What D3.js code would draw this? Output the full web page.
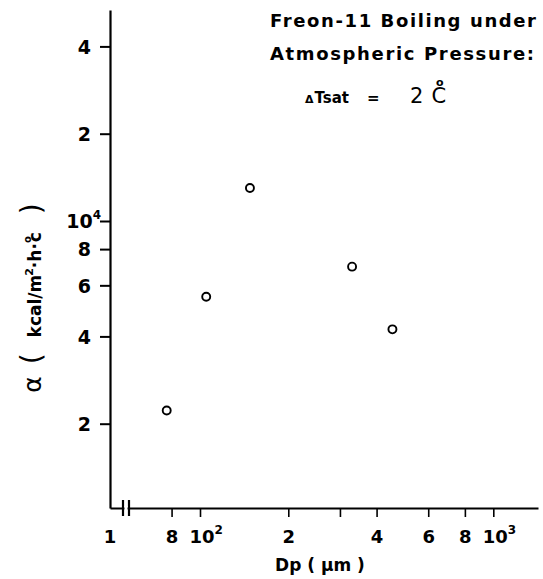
<!DOCTYPE html>
<html><head><meta charset="utf-8">
<script src="https://cdn.jsdelivr.net/npm/d3@7"></script>
<style>
body{margin:0;background:#fff;}
text{font-family:"DejaVu Sans",sans-serif;font-weight:bold;fill:#000;}
</style></head>
<body><svg id="c" width="543" height="579"></svg>
<script>
// Data (Dp in µm, alpha in kcal/m²·h·°C)
const dp = [77, 105, 148, 330, 453];
const alpha = [2220, 5480, 13000, 6960, 4230];
const xTickValues = [80, 100, 200, 300, 400, 600, 800, 1000];
const xTickLabels = ["8", "10|2", "2", "", "4", "6", "8", "10|3"];
const yTickValues = [2000, 4000, 6000, 8000, 10000, 20000, 40000];
const yTickLabels = ["2", "4", "6", "8", "10|4", "2", "4"];

const svg = d3.select("#c");
const L = 110, R = 538, T = 10, B = 508;

const x0 = d3.scaleLog().domain([100, 1000]).range([200, 493.3]);
const x = d3.scaleLog().domain([x0.invert(L), x0.invert(R)]).range([L, R]);
const y0 = d3.scaleLog().domain([10000, 100000]).range([221, -69]);
const y = d3.scaleLog().domain([y0.invert(B), y0.invert(T)]).range([B, T]);

function fmtLabel(sel, labels, vals, supDx, supDy, supSize) {
  sel.each(function(d){
    const i = vals.indexOf(d);
    const t = d3.select(this);
    t.text(null);
    const parts = labels[i].split("|");
    t.append("tspan").text(parts[0]);
    if (parts[1]) t.append("tspan").attr("dy", supDy).attr("dx", supDx).style("font-size", supSize).text(parts[1]);
  });
}

// Y axis
const gy = svg.append("g").attr("transform", `translate(${L},0)`)
  .call(d3.axisLeft(y).tickValues(yTickValues).tickSize(10).tickPadding(9).tickSizeOuter(0));
gy.select(".domain").attr("stroke-width", 2.2);
gy.selectAll(".tick line").attr("stroke-width", 2);
gy.selectAll(".tick text").style("font-size","19px").attr("font-family", null).attr("dy","0.36em")
  .call(fmtLabel, yTickLabels, yTickValues, 0, -9, "12px");
gy.selectAll(".tick text").filter(d => d === 10000).attr("x", -9);

// X axis
const gx = svg.append("g").attr("transform", `translate(0,${B})`)
  .call(d3.axisBottom(x).tickValues(xTickValues).tickSize(9).tickSizeOuter(0));
gx.select(".domain").attr("stroke-width", 2.2);
gx.selectAll(".tick line").attr("stroke-width", 1.6);
gx.selectAll(".tick text").style("font-size","18px").attr("font-family", null).attr("y", 35).attr("dy", null)
  .call(fmtLabel, xTickLabels, xTickValues, 0, -9, "12px");
gx.selectAll(".tick text").filter(d => d === 100 || d === 1000).attr("text-anchor","start").attr("x", -11);
// "1" at origin
gx.append("text").attr("x", L).attr("y", 35).attr("text-anchor","middle").style("font-size","18px").text("1");
// axis break marks
[123, 129].forEach(bx => svg.append("line").attr("x1", bx).attr("x2", bx).attr("y1", B-8).attr("y2", B+8)
  .attr("stroke","#000").attr("stroke-width",2.2));
svg.append("rect").attr("x",124.5).attr("y",B-2).attr("width",3).attr("height",4).attr("fill","#fff");

// Axis titles
svg.append("text").attr("x", 320).attr("y", 571).attr("text-anchor","middle").style("font-size","17px")
  .text("Dp ( µm )");
const yl = svg.append("text").attr("transform","translate(41,298) rotate(-90)").attr("text-anchor","middle")
  .style("font-size","17px");
yl.append("tspan").style("font-size","25px").style("font-weight","normal").text("α");
yl.append("tspan").style("font-size","28px").style("font-weight","normal").attr("dx",12).text("(");
yl.append("tspan").attr("dx",16).text("kcal/m");
yl.append("tspan").attr("dy",-8).attr("dx",-1).style("font-size","11px").text("2");
yl.append("tspan").attr("dy",8).text("·h·");
yl.append("tspan").attr("dy",-10).style("font-size","10px").text("o");
yl.append("tspan").attr("dy",10).attr("dx",-6).text("c");
yl.append("tspan").style("font-size","28px").style("font-weight","normal").attr("dx",18).text(")");

// Annotation
svg.append("text").attr("x", 270).attr("y", 27).style("font-size","18px")
  .attr("textLength", 266).attr("lengthAdjust","spacing").text("Freon-11 Boiling under");
svg.append("text").attr("x", 270).attr("y", 60).style("font-size","18px")
  .attr("textLength", 264).attr("lengthAdjust","spacing").text("Atmospheric Pressure:");
const dt = svg.append("text").attr("x", 305).attr("y", 103).style("font-size","15px");
dt.append("tspan").style("font-size","11px").text("Δ");
dt.append("tspan").attr("dx",1).text("Tsat");
dt.append("tspan").attr("dx",18).text("=");
const dv = svg.append("text").attr("x", 410).attr("y", 103).style("font-size","21px").style("font-weight","normal");
dv.append("tspan").text("2");
dv.append("tspan").attr("dx", 8).text("C");
dv.append("tspan").attr("dx", -10).attr("dy", -17).style("font-size","11px").style("font-weight","bold").text("o");

// Points
svg.append("g").selectAll("circle").data(dp.map((d,i)=>[d, alpha[i]])).join("circle")
  .attr("cx", d => x(d[0])).attr("cy", d => y(d[1])).attr("r", 4)
  .attr("fill","#fff").attr("stroke","#000").attr("stroke-width",1.9);
</script></body></html>
